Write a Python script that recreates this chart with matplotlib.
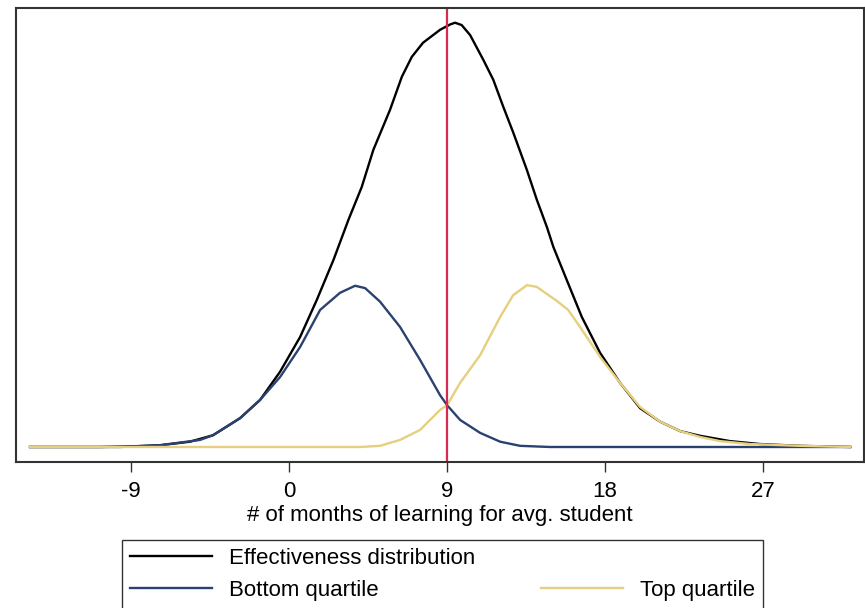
import matplotlib
matplotlib.use("Agg")
import matplotlib.pyplot as plt
from matplotlib.lines import Line2D

plt.rcParams['font.family'] = ['Liberation Sans', 'DejaVu Sans']

# Effectiveness distribution (all teachers)
eff_x = [-14.75, -10.76, -9.05, -7.35, -5.64, -4.33, -2.79, -1.65, -0.51, 0.63,
         1.58, 2.53, 3.38, 4.14, 4.80, 5.75, 6.42, 6.99, 7.63, 8.60,
         9.17, 9.45, 9.83, 10.31, 11.06, 11.63, 12.20, 12.77, 13.54, 14.11,
         14.68, 15.05, 15.81, 16.67, 17.71, 18.85, 19.99, 21.13, 22.27, 23.41,
         25.11, 26.82, 29.10, 31.95]
eff_y = [0.0, 0.0, 0.0001, 0.0003, 0.0009, 0.0020, 0.0049, 0.0080, 0.0128, 0.0187,
         0.0250, 0.0318, 0.0386, 0.0442, 0.0505, 0.0573, 0.0629, 0.0663, 0.0687, 0.0709,
         0.0718, 0.0721, 0.0717, 0.0700, 0.0658, 0.0624, 0.0578, 0.0534, 0.0471, 0.0420,
         0.0374, 0.0340, 0.0284, 0.0221, 0.0160, 0.0109, 0.0066, 0.0043, 0.0027, 0.0019,
         0.0010, 0.0005, 0.0002, 0.0]

# Bottom quartile
bot_x = [-14.75, -10.76, -9.62, -7.35, -5.07, -4.33, -2.79, -1.65, -0.51, 0.63,
         1.77, 2.90, 3.76, 4.33, 5.18, 6.32, 7.46, 8.60, 9.00, 9.74,
         10.88, 12.02, 13.15, 14.86, 31.95]
bot_y = [0.0, 0.0, 0.0, 0.0003, 0.0012, 0.0020, 0.0049, 0.0080, 0.0119, 0.0170,
         0.0233, 0.0262, 0.0274, 0.0270, 0.0247, 0.0204, 0.0148, 0.0088, 0.0071, 0.0046,
         0.0024, 0.0009, 0.0002, 0.0, 0.0]

# Top quartile
top_x = [-14.75, 4.04, 5.18, 6.32, 7.46, 8.60, 9.00, 9.74, 10.88, 12.02,
         12.76, 13.55, 14.11, 15.26, 15.89, 16.57, 17.71, 18.85, 19.99, 21.13,
         22.27, 23.41, 24.54, 26.25, 29.10, 31.95]
top_y = [0.0, 0.0, 0.0002, 0.0012, 0.0029, 0.0063, 0.0071, 0.0109, 0.0156, 0.0221,
         0.0258, 0.0275, 0.0272, 0.0248, 0.0233, 0.0204, 0.0153, 0.0109, 0.0068, 0.0043,
         0.0027, 0.0017, 0.0010, 0.0005, 0.0002, 0.0]

avg_line = 9.0
xticks = [-9, 0, 9, 18, 27]
labels = ["Effectiveness distribution", "Bottom quartile", "Top quartile"]
colors = ["#000000", "#2b4170", "#e6cf7e"]

fig = plt.figure(figsize=(8.65, 6.08), dpi=100)
ax = fig.add_axes([16/865, (608-462)/608, (864-16)/865, (462-8)/608])

l1, = ax.plot(eff_x, eff_y, color=colors[0], lw=1.7, label=labels[0])
l2, = ax.plot(bot_x, bot_y, color=colors[1], lw=1.7, label=labels[1])
l3, = ax.plot(top_x, top_y, color=colors[2], lw=1.7, label=labels[2])
ax.axvline(avg_line, color="#d62a50", lw=1.6)

ax.set_xlim(-15.55, 32.74)
ax.set_ylim(-0.00255, 0.0746)
ax.set_xticks(xticks)
ax.set_xticklabels([str(t) for t in xticks])
ax.set_yticks([])
ax.tick_params(axis='x', direction='out', length=7, width=1, labelsize=16, pad=7, color="#333333")
for s in ax.spines.values():
    s.set_color("#333333")
    s.set_linewidth(1.5)
ax.set_xlabel("# of months of learning for avg. student", fontsize=16, labelpad=1.5)

blank = Line2D([], [], color='none')
leg = fig.legend([l1, l2, blank, l3], [labels[0], labels[1], "", labels[2]],
                 ncol=2, loc='upper left', bbox_to_anchor=(122/865, (608-540)/608),
                 bbox_transform=fig.transFigure, fontsize=16, frameon=True,
                 fancybox=False, edgecolor='black', handlelength=3.7,
                 handletextpad=0.77, columnspacing=2.95, labelspacing=0.5,
                 borderpad=0.36, borderaxespad=0)
leg.get_frame().set_linewidth(1.0)

fig.savefig("out.png", dpi=100)
